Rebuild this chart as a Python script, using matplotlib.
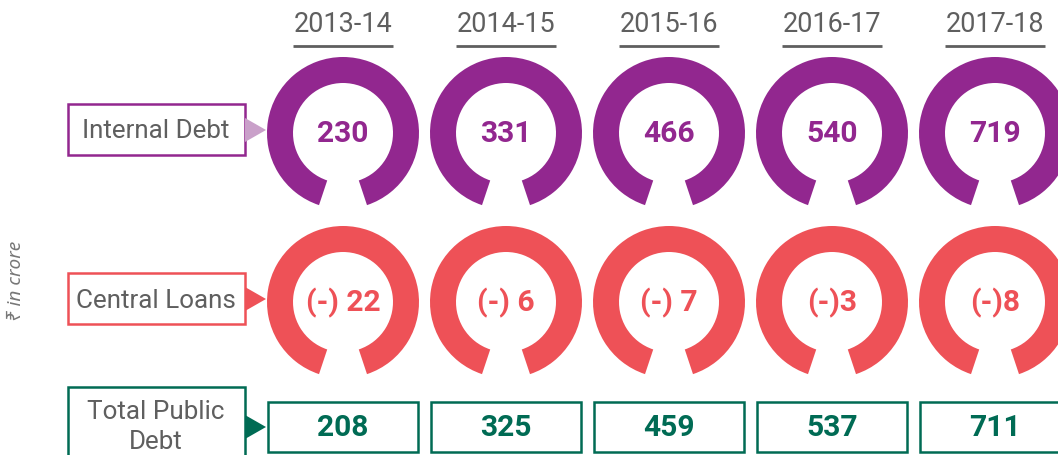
import matplotlib
matplotlib.use("Agg")
import matplotlib.pyplot as plt
from matplotlib.patches import Wedge, Rectangle, Polygon

plt.rcParams['font.family'] = ['Roboto', 'DejaVu Sans']

years = ["2013-14", "2014-15", "2015-16", "2016-17", "2017-18"]
internal_debt = [230, 331, 466, 540, 719]
central_loans = [-22, -6, -7, -3, -8]
central_text = ["(-) 22", "(-) 6", "(-) 7", "(-)3", "(-)8"]
total_debt = [208, 325, 459, 537, 711]
row_labels = ["Internal Debt", "Central Loans", "Total Public\nDebt"]

purple = "#92278f"
light_purple = "#c9a0c9"
red = "#ee5157"
green = "#006b54"
grey = "#5f5f5f"

W, H = 1058, 455
fig = plt.figure(figsize=(W / 100, H / 100), dpi=100)
ax = fig.add_axes([0, 0, 1, 1])
ax.set_xlim(0, W)
ax.set_ylim(H, 0)
ax.axis("off")

def px(v):
    # pixel size -> points
    return v * 0.72

x0, dx = 343, 163
row_y = [133, 302, 427]
r_out, ring_w = 76, 26
gap = 18.4  # half-angle of the opening at the bottom

for i, yr in enumerate(years):
    cx = x0 + i * dx
    # year heading + underline
    ax.text(cx, 25, yr, ha="center", va="center", fontsize=px(27),
            color=grey)
    ax.plot([cx - 50, cx + 50], [46, 46], color=grey, lw=2, solid_capstyle="butt")

    # rings (y axis inverted, so 90 deg is the bottom)
    for ry, col in [(row_y[0], purple), (row_y[1], red)]:
        ax.add_patch(Wedge((cx, ry), r_out, 90 + gap, 450 - gap,
                           width=ring_w, facecolor=col, edgecolor="none"))

    ax.text(cx, row_y[0] + 1, str(internal_debt[i]), ha="center", va="center",
            fontsize=px(30), color=purple, fontweight="bold")
    ax.text(cx, row_y[1] + 1, central_text[i], ha="center", va="center",
            fontsize=px(30), color=red, fontweight="bold")

    # total box
    ax.add_patch(Rectangle((cx - 75, 402), 150, 50, facecolor="white",
                           edgecolor=green, lw=1.8))
    ax.text(cx, row_y[2] + 1, str(total_debt[i]), ha="center", va="center",
            fontsize=px(30), color=green, fontweight="bold")

# row label boxes with pointers
box_specs = [
    (104, 51, purple, light_purple, row_y[0] - 3),
    (273, 51, red, red, row_y[1] - 3),
    (387, 90, green, green, row_y[2]),
]
for (top, h, edge, tri_col, ty), lab in zip(box_specs, row_labels):
    ax.add_patch(Rectangle((68, top), 177, h, facecolor="white",
                           edgecolor=edge, lw=1.8))
    ax.add_patch(Polygon([[245, ty - 12], [266, ty], [245, ty + 12]],
                         closed=True, facecolor=tri_col, edgecolor="none"))
    if "\n" in lab:
        ax.text(156, 427, lab, ha="center", va="center", fontsize=px(26),
                color=grey, linespacing=1.3)
    else:
        ax.text(156, top + h / 2 + 2, lab, ha="center", va="center",
                fontsize=px(26), color=grey)

ax.text(16, 281, "\u20b9 in crore", rotation=90, ha="center", va="center",
        fontsize=px(19), color="#777777", style="italic",
        family=["Noto Sans", "DejaVu Sans"])

fig.savefig("out.png", dpi=100)
